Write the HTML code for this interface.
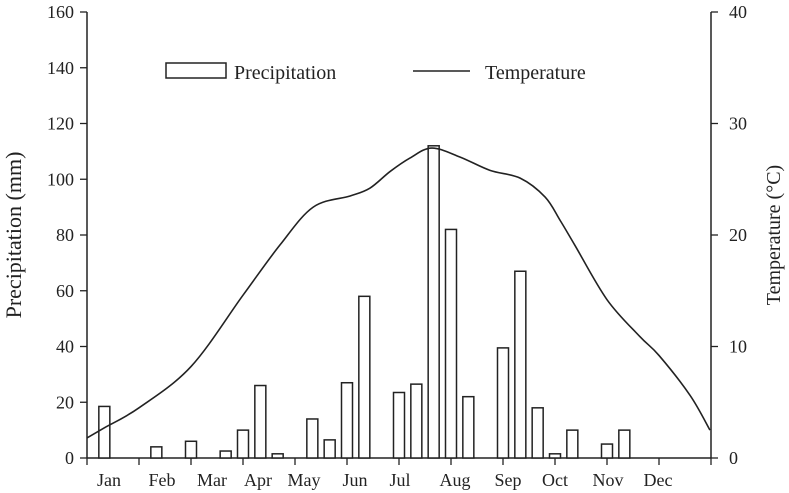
<!DOCTYPE html>
<html><head><meta charset="utf-8"><style>
html,body{margin:0;padding:0;background:#fff;}
svg{display:block;font-family:"Liberation Serif",serif;}
</style></head><body>
<svg id="chart" width="789" height="493" viewBox="0 0 789 493">
<g id="axes"></g>
<g id="bars"></g>
<path id="temp-line" fill="none" stroke="#222" stroke-width="1.6"/>
<g>
<rect x="166" y="63" width="60" height="15" fill="#fff" stroke="#222" stroke-width="1.5"/>
<text x="234" y="79" font-size="20" fill="#222">Precipitation</text>
<line x1="413" y1="71" x2="470" y2="71" stroke="#222" stroke-width="1.6"/>
<text x="485" y="79" font-size="20" fill="#222">Temperature</text>
</g>
<text transform="translate(21,235) rotate(-90)" text-anchor="middle" font-size="22" fill="#222">Precipitation (mm)</text>
<text transform="translate(780,235) rotate(-90)" text-anchor="middle" font-size="20" fill="#222">Temperature (°C)</text>
</svg>
<script>
const months=["Jan","Feb","Mar","Apr","May","Jun","Jul","Aug","Sep","Oct","Nov","Dec"];
const monthLabelX=[109,162,212,258,304,355,400,455,508,555,608,658];
const precipTicks=[0,20,40,60,80,100,120,140,160];
const tempTicks=[0,10,20,30,40];
const barSlot=[1,4,6,8,9,10,11,13,14,15,16,18,19,20,21,22,24,25,26,27,28,30,31];
const barValues=[18.5,4,6,2.5,10,26,1.5,14,6.5,27,58,23.5,26.5,112,82,22,39.5,67,18,1.5,10,5,10];
const tempMonth=[0,0.33,1,2,3,3.71,4.35,5.06,5.44,5.83,6.21,6.63,7.17,7.75,8.33,8.81,9.1,9.38,10,10.63,11,11.6,11.98];
const tempValues=[1.8,2.7,4.5,8.2,14.6,19.1,22.5,23.5,24.2,25.7,26.9,27.8,27.0,25.8,25.1,23.4,21.3,19.1,14.2,10.9,9.2,5.6,2.5];

const X0=87,X1=711,Y0=458,Y1=12;
const mx=m=>X0+(X1-X0)*m/12;
const slotX=k=>X0+(X1-X0)*k/36;
const yP=v=>Y0-(Y0-Y1)*v/160;
const yT=v=>Y0-(Y0-Y1)*v/40;
const NS="http://www.w3.org/2000/svg";
function mk(tag,attrs,parent,txt){const e=document.createElementNS(NS,tag);for(const k in attrs)e.setAttribute(k,attrs[k]);if(txt!==undefined)e.textContent=txt;parent.appendChild(e);return e;}
const ax=document.getElementById('axes');
let e;
e=mk('line',{x1:X0,y1:Y1,x2:X0,y2:Y0,stroke:'#222','stroke-width':1.5},ax);


e=mk('line',{x1:X1,y1:Y1,x2:X1,y2:Y0,stroke:'#222','stroke-width':1.5},ax);


e=mk('line',{x1:X0,y1:Y0,x2:X1,y2:Y0,stroke:'#222','stroke-width':1.5},ax);


precipTicks.forEach(v=>{
  e=mk('line',{x1:X0-7,y1:yP(v),x2:X0,y2:yP(v),stroke:'#222','stroke-width':1.3},ax);
  
  
  e=mk('text',{x:X0-13,y:yP(v)+6,'text-anchor':'end','font-size':18,fill:'#222'},ax,v);
  
  
});
tempTicks.forEach(v=>{
  e=mk('line',{x1:X1,y1:yT(v),x2:X1+7,y2:yT(v),stroke:'#222','stroke-width':1.3},ax);
  
  
  e=mk('text',{x:X1+18,y:yT(v)+6,'font-size':18,fill:'#222'},ax,v);
  
  
});
for(let m=0;m<=12;m++){
  e=mk('line',{x1:mx(m),y1:Y0,x2:mx(m),y2:Y0+7,stroke:'#222','stroke-width':1.3},ax);
  
  
}
months.forEach((m,i)=>{
  e=mk('text',{x:monthLabelX[i],y:486,'text-anchor':'middle','font-size':18,fill:'#222'},ax,m);
  
  
});
const bg=document.getElementById('bars');
barSlot.forEach((k,i)=>{
  const cx=slotX(k),y=yP(barValues[i]);
  e=mk('rect',{x:cx-5.5,y:y,width:11,height:Y0-y,fill:'#fff',stroke:'#222','stroke-width':1.5},bg);
  
  
});
const pts=tempMonth.map((m,i)=>[mx(m),yT(tempValues[i])]);
let d='M'+pts[0][0]+','+pts[0][1];
for(let i=0;i<pts.length-1;i++){
  const p0=pts[Math.max(0,i-1)],p1=pts[i],p2=pts[i+1],p3=pts[Math.min(pts.length-1,i+2)];
  const c1=[p1[0]+(p2[0]-p0[0])/6,p1[1]+(p2[1]-p0[1])/6];
  const c2=[p2[0]-(p3[0]-p1[0])/6,p2[1]-(p3[1]-p1[1])/6];
  d+=` C${c1[0]},${c1[1]} ${c2[0]},${c2[1]} ${p2[0]},${p2[1]}`;
}
document.getElementById('temp-line').setAttribute('d',d);
</script>
</body></html>
